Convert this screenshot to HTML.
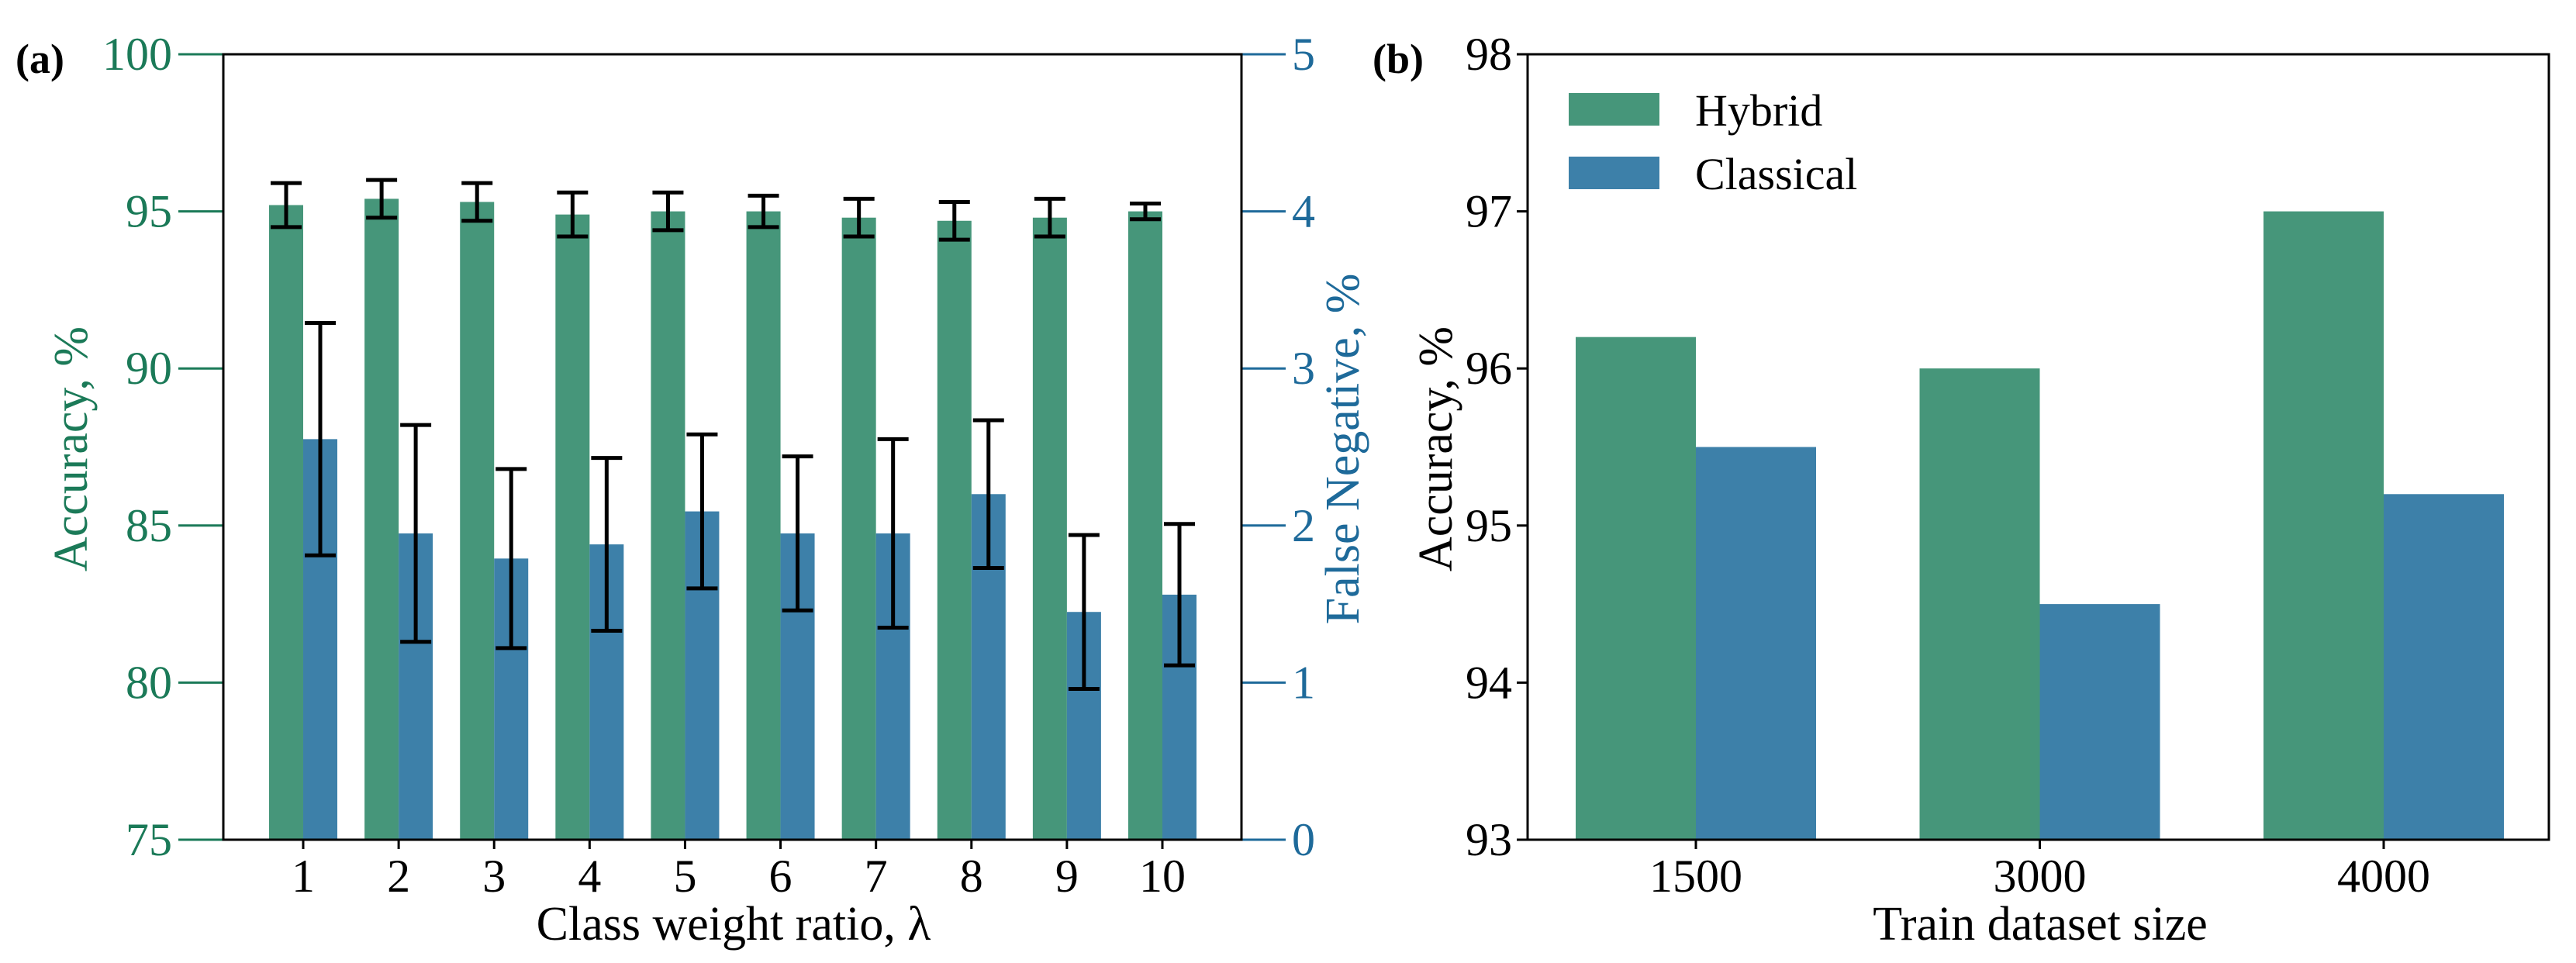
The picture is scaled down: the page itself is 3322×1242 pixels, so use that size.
<!DOCTYPE html>
<html><head><meta charset="utf-8"><style>
html,body{margin:0;padding:0;background:#fff;}
svg text{font-family:"Liberation Serif",serif;}
</style></head><body>
<svg id="fig" width="3322" height="1237" viewBox="0 0 3322 1237" xmlns="http://www.w3.org/2000/svg">
<g id="pa"></g>
<g id="pb"></g>
</svg>
<script>
const lambdas = ['1','2','3','4','5','6','7','8','9','10'];
const accValues = [95.2,95.4,95.3,94.9,95.0,95.0,94.8,94.7,94.8,95.0];
const accErr = [0.7,0.6,0.6,0.7,0.6,0.5,0.6,0.6,0.6,0.25];
const fnValues = [2.55,1.95,1.79,1.88,2.09,1.95,1.95,2.20,1.45,1.56];
const fnErr = [0.74,0.69,0.57,0.55,0.49,0.49,0.60,0.47,0.49,0.45];
const accTicks = [75,80,85,90,95,100];
const fnTicks = [0,1,2,3,4,5];
const sizes = ['1500','3000','4000'];
const hybridValues = [96.2,96.0,97.0];
const classicalValues = [95.5,94.5,95.2];
const bTicks = [93,94,95,96,97,98];

const NS='http://www.w3.org/2000/svg';
const GREEN='#46967a', BLUE='#3d80a9', GT='#1b7a58', BT='#1e6a9a';
const TF=60, LF=62;
function mk(p,tag,at,txt){const e=document.createElementNS(NS,tag);for(const k in at)e.setAttribute(k,at[k]);if(txt!==undefined)e.textContent=txt;p.appendChild(e);return e;}

// Panel A
const A=document.getElementById('pa');
const aL=288,aR=1601,aT=70,aB=1083;
const x0=391,dx=(1499-391)/9,bw=44;
const yA=v=>aB-(v-75)/25*(aB-aT);
const yF=v=>aB-v/5*(aB-aT);
lambdas.forEach((c,i)=>{
  const cx=x0+i*dx;
  let r=mk(A,'rect',{x:cx-bw,y:yA(accValues[i]),width:bw,height:aB-yA(accValues[i]),fill:GREEN});
  
  
  let b=mk(A,'rect',{x:cx,y:yF(fnValues[i]),width:bw,height:aB-yF(fnValues[i]),fill:BLUE});
  
  
  [[cx-bw/2,yA(accValues[i]+accErr[i]),yA(accValues[i]-accErr[i]),'accuracy-error-'+c],[cx+bw/2,yF(fnValues[i]+fnErr[i]),yF(fnValues[i]-fnErr[i]),'fn-error-'+c]].forEach(e=>{
    const g=mk(A,'g',{stroke:'#000','stroke-width':5});
    
    
    mk(g,'line',{x1:e[0],x2:e[0],y1:e[1],y2:e[2]});
    mk(g,'line',{x1:e[0]-20,x2:e[0]+20,y1:e[1],y2:e[1]});
    mk(g,'line',{x1:e[0]-20,x2:e[0]+20,y1:e[2],y2:e[2]});
  });
  mk(A,'line',{x1:cx,x2:cx,y1:aB,y2:aB+12,stroke:'#000','stroke-width':3});
  const t=mk(A,'text',{x:cx,y:1150,'font-size':TF,'text-anchor':'middle'},c);
  
  
});
accTicks.forEach(v=>{
  mk(A,'line',{x1:230,x2:aL,y1:yA(v),y2:yA(v),stroke:GT,'stroke-width':3});
  const t=mk(A,'text',{x:222,y:yA(v)+20,'font-size':TF,'text-anchor':'end',fill:GT},String(v));
  
  
});
fnTicks.forEach(v=>{
  mk(A,'line',{x1:aR,x2:1658,y1:yF(v),y2:yF(v),stroke:BT,'stroke-width':3});
  const t=mk(A,'text',{x:1666,y:yF(v)+20,'font-size':TF,fill:BT},String(v));
  
  
});
mk(A,'rect',{x:aL,y:aT,width:aR-aL,height:aB-aT,fill:'none',stroke:'#000','stroke-width':3});
let t;
t=mk(A,'text',{x:946,y:1212,'font-size':LF,'text-anchor':'middle'},'Class weight ratio, λ');

t=mk(A,'text',{x:0,y:0,'font-size':LF,'text-anchor':'middle',fill:GT,transform:'translate(112,579) rotate(-90)'},'Accuracy, %');

t=mk(A,'text',{x:0,y:0,'font-size':LF,'text-anchor':'middle',fill:BT,transform:'translate(1752,579) rotate(-90)'},'False Negative, %');

t=mk(A,'text',{x:20,y:94,'font-size':54,'font-weight':'bold'},'(a)');


// Panel B
const B=document.getElementById('pb');
const bL=1970,bR=3287,bT=70,bB=1083;
const bx0=2187,bdx=443.5,bbw=155;
const yB=v=>bB-(v-93)/5*(bB-bT);
sizes.forEach((c,i)=>{
  const cx=bx0+i*bdx;
  let r=mk(B,'rect',{x:cx-bbw,y:yB(hybridValues[i]),width:bbw,height:bB-yB(hybridValues[i]),fill:GREEN});
  
  
  let b=mk(B,'rect',{x:cx,y:yB(classicalValues[i]),width:bbw,height:bB-yB(classicalValues[i]),fill:BLUE});
  
  
  mk(B,'line',{x1:cx,x2:cx,y1:bB,y2:bB+12,stroke:'#000','stroke-width':3});
  const tt=mk(B,'text',{x:cx,y:1150,'font-size':TF,'text-anchor':'middle'},c);
  
  
});
bTicks.forEach(v=>{
  mk(B,'line',{x1:bL-14,x2:bL,y1:yB(v),y2:yB(v),stroke:'#000','stroke-width':3});
  const tt=mk(B,'text',{x:bL-20,y:yB(v)+20,'font-size':TF,'text-anchor':'end'},String(v));
  
  
});
mk(B,'rect',{x:bL,y:bT,width:bR-bL,height:bB-bT,fill:'none',stroke:'#000','stroke-width':3});
const lg=mk(B,'g',{});

let e1=mk(lg,'g',{});
mk(e1,'rect',{x:2023,y:120,width:117,height:42,fill:GREEN});
mk(e1,'text',{x:2186,y:162,'font-size':58},'Hybrid');
let e2=mk(lg,'g',{});
mk(e2,'rect',{x:2023,y:202,width:117,height:42,fill:BLUE});
mk(e2,'text',{x:2186,y:244,'font-size':58},'Classical');
t=mk(B,'text',{x:2631,y:1212,'font-size':LF,'text-anchor':'middle'},'Train dataset size');

t=mk(B,'text',{x:0,y:0,'font-size':LF,'text-anchor':'middle',transform:'translate(1872,579) rotate(-90)'},'Accuracy, %');

t=mk(B,'text',{x:1770,y:94,'font-size':54,'font-weight':'bold'},'(b)');

</script>
</body></html>
